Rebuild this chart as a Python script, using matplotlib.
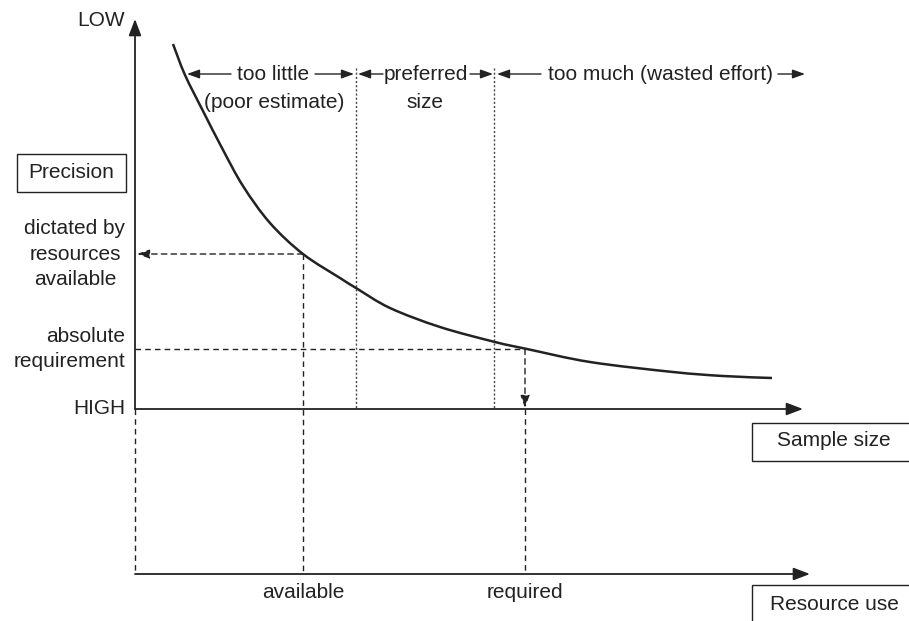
import matplotlib
matplotlib.use("Agg")
import matplotlib.pyplot as plt
from matplotlib.patches import Rectangle, PathPatch
from matplotlib.path import Path

plt.rcParams['font.family'] = ['Liberation Sans', 'DejaVu Sans']
plt.rcParams['lines.scale_dashes'] = False

# curve (pixel coords, y grows downward)
curve_x = [173, 185, 203, 222, 243, 270, 303, 340, 356, 390, 440, 495, 527, 590, 673, 723, 772]
curve_y = [44, 75, 111, 148, 186, 223, 254, 278, 288, 308, 327, 342, 349, 362, 372, 376, 378]

# key positions on the diagram
x_origin = 135
y_high = 409          # upper axis (precision HIGH)
y_res = 574           # lower axis (resource use)
x_available = 303
x_required = 525
x_pref_lo = 356
x_pref_hi = 494
y_dictated = 254
y_absolute = 349

ink = '#222222'
fs = 15

fig = plt.figure(figsize=(9.09, 6.21), dpi=100)
ax = fig.add_axes([0, 0, 1, 1])
ax.set_xlim(0, 909)
ax.set_ylim(621, 0)
ax.axis('off')

big = dict(arrowstyle='-|>,head_length=1.0,head_width=0.38', color=ink, lw=1.3,
           shrinkA=0, shrinkB=0, mutation_scale=10)
small = dict(arrowstyle='-|>,head_length=0.75,head_width=0.27', color=ink, lw=1.0,
             shrinkA=0, shrinkB=0, mutation_scale=10)

# axes
ax.annotate('', xy=(x_origin, 19), xytext=(x_origin, y_high), arrowprops=big)
ax.annotate('', xy=(803, y_high), xytext=(x_origin, y_high), arrowprops=big)
ax.annotate('', xy=(810, y_res), xytext=(x_origin, y_res), arrowprops=big)
ax.plot([x_origin, x_origin], [y_high, y_res], color=ink, lw=1.0, dashes=(4, 3))

# curve: smooth bezier through the read points (catmull-rom handles)
pts = list(zip(curve_x, curve_y))
verts = [pts[0]]
codes = [Path.MOVETO]
for i in range(len(pts) - 1):
    p0 = pts[i - 1] if i > 0 else pts[i]
    p1 = pts[i]
    p2 = pts[i + 1]
    p3 = pts[i + 2] if i + 2 < len(pts) else pts[i + 1]
    c1 = (p1[0] + (p2[0] - p0[0]) / 6, p1[1] + (p2[1] - p0[1]) / 6)
    c2 = (p2[0] - (p3[0] - p1[0]) / 6, p2[1] - (p3[1] - p1[1]) / 6)
    verts += [c1, c2, p2]
    codes += [Path.CURVE4] * 3
ax.add_patch(PathPatch(Path(verts, codes), fill=False, ec=ink, lw=1.8))

# dashed guides
ax.plot([x_available, x_available], [y_dictated, y_res], color=ink, lw=1.0, dashes=(4, 3))
ax.annotate('', xy=(x_origin + 2, y_dictated), xytext=(x_available, y_dictated),
            arrowprops=dict(small, linestyle=(0, (4, 3))))
ax.plot([x_origin, x_required], [y_absolute, y_absolute], color=ink, lw=1.0, dashes=(4, 3))
ax.annotate('', xy=(x_required, y_high - 1), xytext=(x_required, y_absolute),
            arrowprops=dict(small, linestyle=(0, (4, 3))))
ax.plot([x_required, x_required], [y_high, y_res], color=ink, lw=1.0, dashes=(4, 3))

# preferred size bounds (dotted)
for xb in [x_pref_lo, x_pref_hi]:
    ax.plot([xb, xb], [68, y_high], color='#444444', lw=1.0, dashes=(1.5, 1.5))

# top range labels with arrows
y_top = 74
ax.annotate('', xy=(187, y_top), xytext=(231, y_top), arrowprops=small)
ax.annotate('', xy=(354, y_top), xytext=(315, y_top), arrowprops=small)
ax.text(273, y_top + 1, 'too little', fontsize=fs, color=ink, ha='center', va='center')
ax.text(274, 102, '(poor estimate)', fontsize=fs, color=ink, ha='center', va='center')

ax.annotate('', xy=(358, y_top), xytext=(383, y_top), arrowprops=small)
ax.annotate('', xy=(493, y_top), xytext=(470, y_top), arrowprops=small)
ax.text(426, y_top + 1, 'preferred', fontsize=fs, color=ink, ha='center', va='center')
ax.text(425, 102, 'size', fontsize=fs, color=ink, ha='center', va='center')

ax.annotate('', xy=(497, y_top), xytext=(541, y_top), arrowprops=small)
ax.annotate('', xy=(805, y_top), xytext=(778, y_top), arrowprops=small)
ax.text(661, y_top + 1, 'too much (wasted effort)', fontsize=fs, color=ink, ha='center', va='center')

# left labels
ax.text(125, 20, 'LOW', fontsize=fs, color=ink, ha='right', va='center')
ax.add_patch(Rectangle((17, 154), 109, 38, fill=False, ec=ink, lw=1.0))
ax.text(71, 173, 'Precision', fontsize=fs, color=ink, ha='center', va='center')
ax.text(75, 254, 'dictated by\nresources\navailable', fontsize=fs, color=ink,
        ha='center', va='center', multialignment='center', linespacing=1.45)
ax.text(125, 349, 'absolute\nrequirement', fontsize=fs, color=ink,
        ha='right', va='center', multialignment='right', linespacing=1.45)
ax.text(125, 408, 'HIGH', fontsize=fs, color=ink, ha='right', va='center')

# axis name boxes
ax.add_patch(Rectangle((752, 423), 170, 38, fill=False, ec=ink, lw=1.0, clip_on=False))
ax.text(834, 441, 'Sample size', fontsize=fs, color=ink, ha='center', va='center')
ax.add_patch(Rectangle((752, 585), 170, 50, fill=False, ec=ink, lw=1.0))
ax.text(834, 604, 'Resource use', fontsize=fs, color=ink, ha='center', va='center')

# lower axis labels
ax.text(x_available, 592, 'available', fontsize=fs, color=ink, ha='center', va='center')
ax.text(x_required, 592, 'required', fontsize=fs, color=ink, ha='center', va='center')

fig.savefig('out.png', dpi=100)
